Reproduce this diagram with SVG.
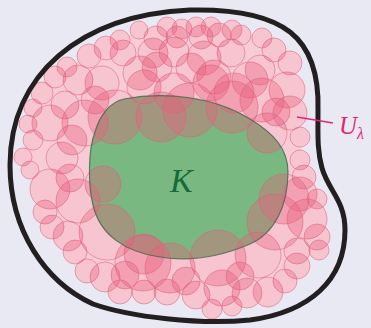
<svg xmlns="http://www.w3.org/2000/svg" xmlns:xlink="http://www.w3.org/1999/xlink" width="371" height="328" viewBox="0 0 371 328">
<style>
.bg{fill:#e9e9f3}
.base{fill:#f8ccd7;stroke:none}
.disc-white{fill:#ffffff;stroke:none}
.disc{fill:#e85d7e;fill-opacity:0.36;stroke:#dc5f7c;stroke-opacity:0.55;stroke-width:1}
.kfill{fill:#79b880;stroke:none}
.kline{fill:none;stroke:#4a6a50;stroke-width:1.2;stroke-opacity:0.85}
.outer{fill:none;stroke:#231f20;stroke-width:5}
.lead{fill:none;stroke:#e5237b;stroke-width:1.5}
.ulab{font-family:"Liberation Serif","DejaVu Serif",serif;font-style:italic;fill:#e5237b}
.klab{font-family:"Liberation Serif","DejaVu Serif",serif;font-style:italic;fill:#166b3b}
</style>
<defs>
<g id="discs">
<circle cx="23" cy="157" r="9"/><circle cx="30" cy="170" r="9"/><circle cx="28" cy="124" r="9"/><circle cx="33" cy="108" r="9"/>
<circle cx="33" cy="140" r="10"/><circle cx="42" cy="93" r="11"/><circle cx="55" cy="77" r="11"/><circle cx="67" cy="67" r="10"/>
<circle cx="89" cy="56" r="12"/><circle cx="106" cy="48" r="12"/><circle cx="120" cy="40" r="10"/><circle cx="139" cy="30" r="9"/>
<circle cx="156" cy="38" r="12"/><circle cx="167" cy="27" r="10"/><circle cx="177" cy="37" r="11"/><circle cx="182" cy="29" r="10"/>
<circle cx="196" cy="27" r="10"/><circle cx="201" cy="37" r="12"/><circle cx="211" cy="27" r="10"/><circle cx="219" cy="35" r="12"/>
<circle cx="232" cy="30" r="10"/><circle cx="241" cy="35" r="10"/><circle cx="262" cy="38" r="10"/><circle cx="274" cy="50" r="12"/>
<circle cx="290" cy="63" r="12"/><circle cx="300" cy="137" r="10"/><circle cx="300" cy="160" r="10"/><circle cx="304" cy="177" r="12"/>
<circle cx="317" cy="199" r="10"/><circle cx="317" cy="237" r="13"/><circle cx="319" cy="250" r="10"/><circle cx="297" cy="266" r="13"/>
<circle cx="285" cy="281" r="12"/><circle cx="268" cy="292" r="15"/><circle cx="247" cy="293" r="15"/><circle cx="232" cy="306" r="10"/>
<circle cx="212" cy="309" r="10"/><circle cx="196" cy="295" r="14"/><circle cx="167" cy="292" r="13"/><circle cx="144" cy="292" r="12"/>
<circle cx="120" cy="292" r="12"/><circle cx="105" cy="277" r="15"/><circle cx="87" cy="271" r="12"/><circle cx="75" cy="252" r="12"/>
<circle cx="68" cy="236" r="15"/><circle cx="52" cy="227" r="12"/><circle cx="45" cy="212" r="12"/>
<circle cx="123" cy="53" r="13"/><circle cx="153" cy="53" r="15"/><circle cx="174" cy="52" r="15"/><circle cx="204" cy="58" r="17"/>
<circle cx="231" cy="53" r="14"/><circle cx="157" cy="67" r="15"/><circle cx="191" cy="68" r="15"/><circle cx="214" cy="77" r="17"/>
<circle cx="260" cy="70" r="15"/><circle cx="287" cy="90" r="18"/><circle cx="290" cy="113" r="17"/><circle cx="78" cy="80" r="15"/>
<circle cx="102" cy="83" r="17"/><circle cx="140" cy="73" r="17"/><circle cx="50" cy="123" r="18"/><circle cx="62" cy="158" r="16"/>
<circle cx="50" cy="189" r="20"/><circle cx="78" cy="201" r="22"/><circle cx="300" cy="194" r="17"/><circle cx="307" cy="219" r="20"/>
<circle cx="297" cy="251" r="13"/><circle cx="222" cy="288" r="18"/><circle cx="144" cy="254" r="20"/><circle cx="250" cy="80" r="18"/>
<circle cx="262" cy="100" r="22"/>
<circle cx="65" cy="105" r="14"/><circle cx="72" cy="140" r="15"/><circle cx="70" cy="178" r="14"/><circle cx="95" cy="100" r="14"/>
<circle cx="125" cy="275" r="14"/><circle cx="186" cy="281" r="14"/><circle cx="240" cy="276" r="14"/><circle cx="276" cy="112" r="14"/>
<circle cx="85" cy="123" r="23"/><circle cx="115" cy="117" r="27"/><circle cx="144" cy="87" r="17"/><circle cx="174" cy="93" r="20"/>
<circle cx="211" cy="83" r="18"/><circle cx="234" cy="93" r="20"/><circle cx="161" cy="117" r="25"/><circle cx="190" cy="110" r="27"/>
<circle cx="232" cy="107" r="26"/><circle cx="267" cy="133" r="20"/><circle cx="284" cy="199" r="25"/><circle cx="275" cy="222" r="28"/>
<circle cx="258" cy="255" r="23"/><circle cx="103" cy="184" r="18"/><circle cx="107" cy="232" r="28"/><circle cx="143" cy="263" r="28"/>
<circle cx="170" cy="268" r="25"/><circle cx="218" cy="258" r="28"/>
</g>
</defs>
<rect class="bg" x="0" y="0" width="371" height="328"/>
<g id="cover-Ulambda">
<polygon class="base" points="23,157 28,124 33,108 42,93 55,77 67,67 89,56 106,48 120,40 139,30 167,27 196,27 232,30 262,38 274,50 290,63 295,90 295,115 300,137 304,177 317,199 317,237 297,266 285,281 268,292 232,306 212,309 196,295 167,292 144,292 120,292 105,277 87,271 75,252 68,236 52,227 45,212 30,170"/>
<use xlink:href="#discs" href="#discs" class="disc-white"/>
</g>
<g id="K">
<path class="kfill" d="M124,99 C165,91 215,97 250,119 C275,134 288,150 288,172 C288,205 275,233 250,244 C222,256 190,262 160,257 C125,252 100,235 93,205 C88,185 88,150 95,132 C100,115 110,102 124,99 Z"/>
</g>
<g id="cover-discs">
<use xlink:href="#discs" href="#discs" class="disc"/>
</g>
<g id="K-outline">
<path class="kline" d="M124,99 C165,91 215,97 250,119 C275,134 288,150 288,172 C288,205 275,233 250,244 C222,256 190,262 160,257 C125,252 100,235 93,205 C88,185 88,150 95,132 C100,115 110,102 124,99 Z"/>
<text class="klab" x="170" y="192" font-size="34">K</text>
</g>
<g id="boundary">
<path class="outer" d="M10,165 C10,75 80,15 190,10 C285,8 320,38 318,110 C318,135 317,150 322,168 C328,190 345,200 345,230 C345,280 310,312 250,320 C200,325 130,317 93,304 C45,282 10,230 10,165 Z"/>
</g>
<g id="connectors">
<line class="lead" x1="297" y1="117" x2="333" y2="123"/>
</g>
<g id="label-U">
<text class="ulab" x="339" y="134" font-size="25">U<tspan font-size="16" dy="5">λ</tspan></text>
</g>
</svg>
